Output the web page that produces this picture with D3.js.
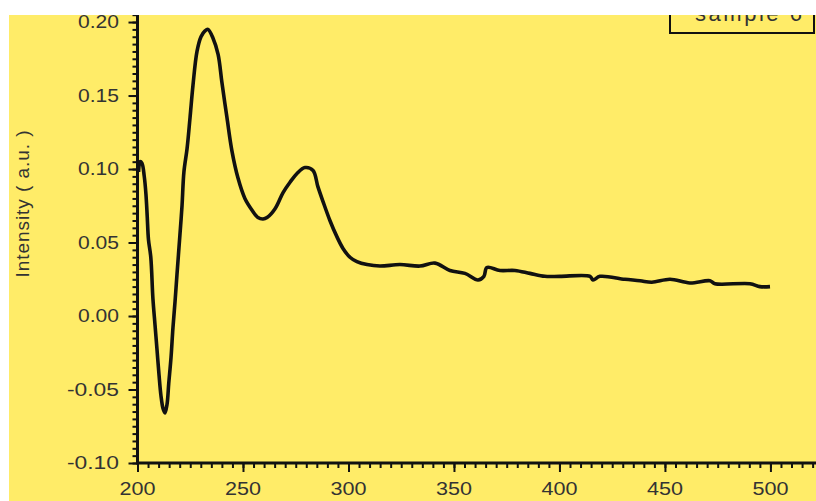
<!DOCTYPE html>
<html>
<head>
<meta charset="utf-8">
<script src="https://cdn.jsdelivr.net/npm/d3@7"></script>
<style>
  html, body { margin: 0; padding: 0; background: #ffffff; }
  svg { display: block; }
</style>
</head>
<body>
<svg id="chart" width="816" height="501"></svg>
<script>
// ---- data ----
const wavelength = [200.5, 201.2, 202.1, 203.2, 204.0, 204.6, 205.2, 206.3, 207.3, 208.3, 209.2, 210.2, 211.1, 212.1, 213.0, 214.0, 214.8, 215.9, 216.8, 217.8, 218.7, 220.1, 221.1, 222.0, 223.5, 224.9, 226.3, 228.2, 230.1, 232.0, 233.4, 235.8, 238.2, 240.0, 242.4, 244.8, 247.6, 250.9, 254.3, 257.1, 259.5, 261.4, 265.2, 269.0, 272.3, 275.6, 279.4, 283.2, 285.5, 287.9, 291.2, 294.5, 297.4, 300.7, 304.0, 308.8, 314.9, 324.4, 333.9, 341.0, 348.1, 355.2, 361.4, 364.2, 365.6, 371.8, 378.9, 386.0, 393.1, 400.2, 414.5, 415.9, 419.2, 431.0, 438.2, 443.8, 452.4, 461.8, 471.3, 473.7, 490.3, 495.0, 499.8];
const intensity  = [0.098, 0.105, 0.104, 0.095, 0.083, 0.068, 0.052, 0.040, 0.012, -0.006, -0.022, -0.040, -0.054, -0.063, -0.066, -0.060, -0.046, -0.028, -0.008, 0.010, 0.028, 0.055, 0.075, 0.098, 0.114, 0.135, 0.157, 0.180, 0.190, 0.194, 0.195, 0.189, 0.178, 0.159, 0.135, 0.112, 0.094, 0.080, 0.072, 0.067, 0.066, 0.067, 0.073, 0.084, 0.091, 0.097, 0.101, 0.099, 0.088, 0.078, 0.065, 0.054, 0.046, 0.040, 0.037, 0.035, 0.034, 0.035, 0.034, 0.036, 0.031, 0.029, 0.0245, 0.027, 0.033, 0.031, 0.031, 0.029, 0.027, 0.027, 0.027, 0.0245, 0.027, 0.025, 0.024, 0.023, 0.025, 0.0225, 0.024, 0.022, 0.022, 0.020, 0.020];
const xTicks = [200, 250, 300, 350, 400, 450, 500];
const xTickLabels = ["200", "250", "300", "350", "400", "450", "500"];
const yTicks = [-0.10, -0.05, 0.00, 0.05, 0.10, 0.15, 0.20];
const yTickLabels = ["-0.10", "-0.05", "0.00", "0.05", "0.10", "0.15", "0.20"];
const yAxisTitle = "Intensity ( a.u. )";
const legendLabel = "sample 6";

// ---- layout ----
const W = 816, H = 501;
const svg = d3.select("#chart");
const bg = "#ffec68";
const ink = "#111111";
const txt = "#333333";
const font = "'Liberation Sans', Arial, sans-serif";

svg.append("rect").attr("x", 9).attr("y", 15).attr("width", W - 9).attr("height", H - 15).attr("fill", bg);

const x = d3.scaleLinear().domain([200, 521.6]).range([137.5, 816]);
const y = d3.scaleLinear().domain([-0.10, 0.205]).range([463, 14.7]);

const xMinor = d3.range(200, 521, 5);
const yMinor = d3.range(-0.10, 0.2051, 0.005).map(v => +v.toFixed(3));

// minor ticks
const gxMinor = svg.append("g").attr("transform", `translate(0,${y(-0.10)})`)
  .call(d3.axisBottom(x).tickValues(xMinor).tickSize(5).tickFormat(""));
const gyMinor = svg.append("g").attr("transform", `translate(${x(200)},0)`)
  .call(d3.axisLeft(y).tickValues(yMinor).tickSize(5).tickFormat(""));
// major ticks
const gx = svg.append("g").attr("transform", `translate(0,${y(-0.10)})`)
  .call(d3.axisBottom(x).tickValues(xTicks).tickSize(9).tickFormat(""));
const gy = svg.append("g").attr("transform", `translate(${x(200)},0)`)
  .call(d3.axisLeft(y).tickValues(yTicks).tickSize(9).tickFormat(""));

[gxMinor, gyMinor, gx, gy].forEach(g => {
  g.selectAll(".tick line").attr("stroke", ink).attr("stroke-width", 2);
  g.select(".domain").remove();
});

// axis lines
svg.append("line").attr("x1", x(200)).attr("x2", W).attr("y1", y(-0.10)).attr("y2", y(-0.10))
  .attr("stroke", ink).attr("stroke-width", 3);
svg.append("line").attr("x1", x(200)).attr("x2", x(200)).attr("y1", y(-0.10) + 1.5).attr("y2", 15)
  .attr("stroke", ink).attr("stroke-width", 3);

// tick labels
svg.append("g").selectAll("text").data(yTicks).join("text")
  .attr("x", 119).attr("y", d => y(d))
  .attr("text-anchor", "end").attr("dominant-baseline", "central")
  .attr("font-family", font).attr("font-size", 18)
  .attr("fill", txt)
  .attr("textLength", (d, i) => yTickLabels[i].length === 5 ? 52 : 41).attr("lengthAdjust", "spacingAndGlyphs")
  .text((d, i) => yTickLabels[i]);

svg.append("g").selectAll("text").data(xTicks).join("text")
  .attr("x", d => x(d)).attr("y", 489)
  .attr("text-anchor", "middle").attr("dominant-baseline", "central")
  .attr("font-family", font).attr("font-size", 18)
  .attr("fill", txt)
  .attr("textLength", 36).attr("lengthAdjust", "spacingAndGlyphs")
  .text((d, i) => xTickLabels[i]);

// y axis title
svg.append("text")
  .attr("transform", "translate(29,204) rotate(-90)")
  .attr("text-anchor", "middle")
  .attr("font-family", font).attr("font-size", 19)
  .attr("fill", txt)
  .attr("textLength", 147).attr("lengthAdjust", "spacing")
  .text(yAxisTitle);

// curve
const line = d3.line().x((d, i) => x(wavelength[i])).y(d => y(d)).curve(d3.curveCatmullRom.alpha(0.5));
svg.append("path").datum(intensity)
  .attr("d", line)
  .attr("fill", "none").attr("stroke", ink).attr("stroke-width", 3.6)
  .attr("stroke-linejoin", "round");

// legend
svg.append("rect").attr("x", 670).attr("y", 0).attr("width", 144).attr("height", 33)
  .attr("fill", bg).attr("stroke", ink).attr("stroke-width", 2);
svg.append("text").attr("x", 695).attr("y", 21)
  .attr("font-family", font).attr("font-size", 22)
  .attr("fill", txt)
  .attr("textLength", 107).attr("lengthAdjust", "spacing")
  .text(legendLabel);

// white crop strips
svg.append("rect").attr("x", 0).attr("y", 0).attr("width", W).attr("height", 15).attr("fill", "#ffffff");
svg.append("rect").attr("x", 0).attr("y", 0).attr("width", 9).attr("height", H).attr("fill", "#ffffff");
</script>
</body>
</html>
